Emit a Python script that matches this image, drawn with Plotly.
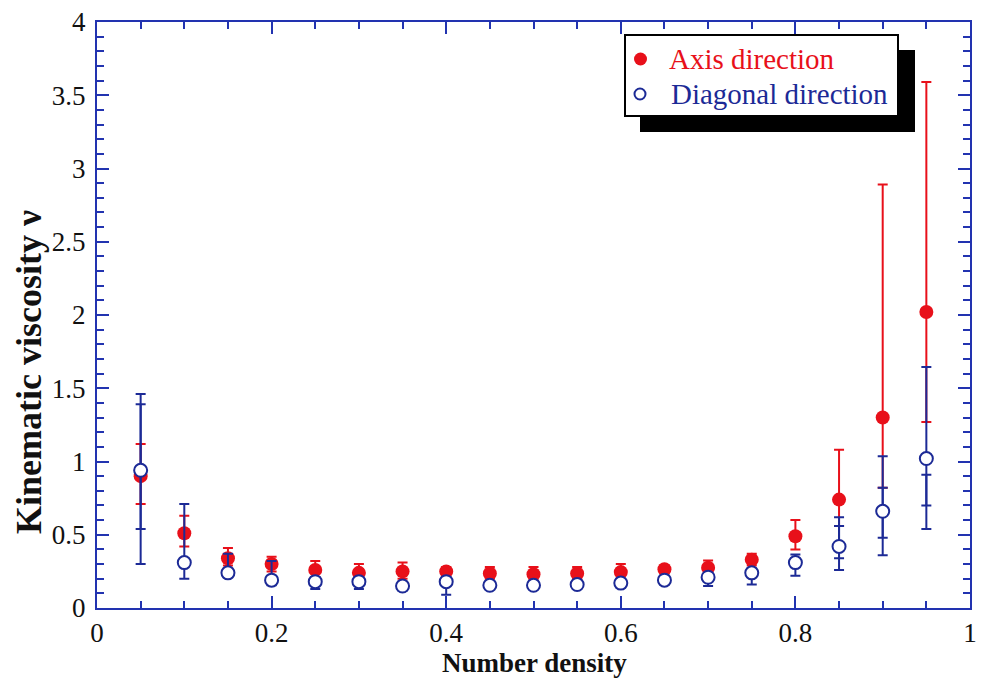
import plotly.graph_objects as go

# ---- data ----
density = [0.05, 0.10, 0.15, 0.20, 0.25, 0.30, 0.35, 0.40, 0.45, 0.50,
           0.55, 0.60, 0.65, 0.70, 0.75, 0.80, 0.85, 0.90, 0.95]

axis_nu = [0.90, 0.51, 0.34, 0.30, 0.26, 0.24, 0.25, 0.25, 0.235, 0.23,
           0.235, 0.245, 0.265, 0.275, 0.33, 0.49, 0.74, 1.30, 2.02]
axis_hi = [1.12, 0.63, 0.41, 0.35, 0.32, 0.30, 0.31, 0.28, 0.28, 0.28,
           0.28, 0.30, 0.29, 0.325, 0.37, 0.60, 1.08, 2.89, 3.59]
axis_lo = [0.71, 0.42, 0.29, 0.25, 0.21, 0.19, 0.20, 0.22, 0.20, 0.19,
           0.20, 0.20, 0.24, 0.23, 0.29, 0.40, 0.56, 0.82, 1.27]

diag_nu = [0.94, 0.31, 0.24, 0.19, 0.18, 0.18, 0.15, 0.18, 0.155, 0.155,
           0.16, 0.17, 0.19, 0.21, 0.24, 0.31, 0.42, 0.66, 1.02]
diag_hi = [1.46, 0.71, 0.37, 0.32, 0.21, 0.21, 0.18, 0.21, 0.18, 0.18,
           0.19, 0.20, 0.22, 0.24, 0.27, 0.365, 0.62, 1.035, 1.645]
diag_lo = [0.30, 0.20, 0.21, 0.155, 0.13, 0.13, 0.12, 0.09, 0.13, 0.13,
           0.14, 0.14, 0.16, 0.15, 0.16, 0.22, 0.26, 0.36, 0.54]
# secondary (inner) caps visible on the diagonal series
diag_in_hi = [1.39, None, None, None, None, None, None, None, None, None,
              None, None, None, None, None, None, 0.56, 0.82, 0.91]
diag_in_lo = [0.54, None, None, None, None, None, None, None, None, None,
              None, None, None, None, None, None, 0.34, 0.48, 0.70]

series_names = ["Axis direction", "Diagonal direction"]

x_ticks = [0, 0.2, 0.4, 0.6, 0.8, 1]
x_ticktext = ["0", "0.2", "0.4", "0.6", "0.8", "1"]
y_ticks = [0, 0.5, 1, 1.5, 2, 2.5, 3, 3.5, 4]
y_ticktext = ["0", "0.5", "1", "1.5", "2", "2.5", "3", "3.5", "4"]

RED = "#e8101a"
BLUE = "#1c2a96"
AXC = "#2233b0"
SERIF = "Liberation Serif, Times New Roman, serif"

# page body has an 8px margin: size the figure so it fits inside the 985x691 window
OFF = 8
FIG_W, FIG_H = 969, 675
ML, MR, MT, MB = 89, 7, 14, 75
PW = FIG_W - ML - MR
PH = FIG_H - MT - MB


def px(xw):   # window pixel x -> paper x
    return (xw - OFF - ML) / PW


def py(yw):   # window pixel y -> paper y
    return (FIG_H - MB - (yw - OFF)) / PH


fig = go.Figure()

fig.add_trace(go.Scatter(
    x=density, y=axis_nu, mode="markers", name=series_names[0], showlegend=False,
    marker=dict(symbol="circle", size=14, color=RED, line=dict(width=0)),
    error_y=dict(type="data", symmetric=False,
                 array=[h - v for h, v in zip(axis_hi, axis_nu)],
                 arrayminus=[v - l for v, l in zip(axis_nu, axis_lo)],
                 color=RED, thickness=2, width=5),
))

# inner caps of diagonal series (invisible markers at mid-range)
in_x, in_mid, in_half = [], [], []
for xv, h, l in zip(density, diag_in_hi, diag_in_lo):
    if h is not None:
        in_x.append(xv)
        in_mid.append((h + l) / 2)
        in_half.append((h - l) / 2)
fig.add_trace(go.Scatter(
    x=in_x, y=in_mid, mode="markers", showlegend=False, hoverinfo="skip",
    marker=dict(size=1, color="rgba(0,0,0,0)"),
    error_y=dict(type="data", array=in_half, color=BLUE, thickness=2, width=5),
))

fig.add_trace(go.Scatter(
    x=density, y=diag_nu, mode="markers", name=series_names[1], showlegend=False,
    marker=dict(symbol="circle", size=13, color="white", line=dict(width=2, color=BLUE)),
    error_y=dict(type="data", symmetric=False,
                 array=[h - v for h, v in zip(diag_hi, diag_nu)],
                 arrayminus=[v - l for v, l in zip(diag_nu, diag_lo)],
                 color=BLUE, thickness=2, width=5),
))

# invisible trace to anchor the mirrored (top/right) tick axes
fig.add_trace(go.Scatter(x=[0.5], y=[2], xaxis="x2", yaxis="y2", mode="markers",
                         marker=dict(size=1, color="rgba(0,0,0,0)"),
                         showlegend=False, hoverinfo="skip"))

tick_common = dict(
    ticks="inside", tickcolor=AXC, tickwidth=2, ticklen=12,
    showgrid=False, zeroline=False, automargin=False,
)
fig.update_layout(
    xaxis=dict(range=[0, 1], tickvals=x_ticks, ticktext=x_ticktext,
               showline=True, linecolor=AXC, linewidth=2, mirror=True,
               tickfont=dict(family=SERIF, size=27, color="#111"),
               ticklabeloverflow="allow",
               minor=dict(ticks="inside", ticklen=7, tickcolor=AXC, tickwidth=2,
                          dtick=0.05, tick0=0, showgrid=False),
               **tick_common),
    yaxis=dict(range=[0, 4], tickvals=y_ticks, ticktext=y_ticktext,
               showline=True, linecolor=AXC, linewidth=2, mirror=True,
               tickfont=dict(family=SERIF, size=27, color="#111"),
               ticklabelstandoff=4, ticklabeloverflow="allow",
               minor=dict(ticks="inside", ticklen=7, tickcolor=AXC, tickwidth=2,
                          dtick=0.1, tick0=0, showgrid=False),
               **tick_common),
    xaxis2=dict(range=[0, 1], overlaying="x", side="top", anchor="y2",
                tickvals=x_ticks, showticklabels=False, showline=False,
                minor=dict(ticks="inside", ticklen=7, tickcolor=AXC, tickwidth=2,
                           dtick=0.05, tick0=0, showgrid=False),
                **tick_common),
    yaxis2=dict(range=[0, 4], overlaying="y", side="right", anchor="x2",
                tickvals=y_ticks, showticklabels=False, showline=False,
                minor=dict(ticks="inside", ticklen=7, tickcolor=AXC, tickwidth=2,
                           dtick=0.1, tick0=0, showgrid=False),
                **tick_common),
)

# axis titles
fig.add_annotation(text="<b>Number density</b>", xref="paper", yref="paper",
                   x=px(534), y=py(663), xanchor="center", yanchor="middle", showarrow=False,
                   font=dict(family=SERIF, size=27, color="#111"))
fig.add_annotation(text="<b>Kinematic viscosity ν</b>", xref="paper", yref="paper",
                   x=px(29), y=py(372), xanchor="center", yanchor="middle", showarrow=False,
                   textangle=-90, font=dict(family=SERIF, size=36, color="#111"))

# legend: shadow, framed box, symbols and labels
fig.add_shape(type="rect", xref="paper", yref="paper",
              x0=px(640), x1=px(915), y0=py(132), y1=py(50),
              fillcolor="black", line=dict(width=0), layer="above")
fig.add_shape(type="rect", xref="paper", yref="paper",
              x0=px(625), x1=px(898), y0=py(116), y1=py(35),
              fillcolor="white", line=dict(width=2, color="black"), layer="above")
fig.add_shape(type="circle", xref="paper", yref="paper",
              x0=px(634), x1=px(647), y0=py(65.5), y1=py(52.5),
              fillcolor=RED, line=dict(width=0), layer="above")
fig.add_shape(type="circle", xref="paper", yref="paper",
              x0=px(634.5), x1=px(645.5), y0=py(99.5), y1=py(88.5),
              fillcolor="white", line=dict(width=2, color=BLUE), layer="above")
fig.add_annotation(text=series_names[0], xref="paper", yref="paper",
                   x=px(667), y=py(59), xanchor="left", yanchor="middle", showarrow=False,
                   font=dict(family=SERIF, size=29, color=RED))
fig.add_annotation(text=series_names[1], xref="paper", yref="paper",
                   x=px(669), y=py(94), xanchor="left", yanchor="middle", showarrow=False,
                   font=dict(family=SERIF, size=29, color=BLUE))

fig.update_layout(
    width=FIG_W, height=FIG_H,
    margin=dict(l=ML, r=MR, t=MT, b=MB),
    paper_bgcolor="white", plot_bgcolor="white",
    showlegend=False,
)

fig.write_html("out.html")
